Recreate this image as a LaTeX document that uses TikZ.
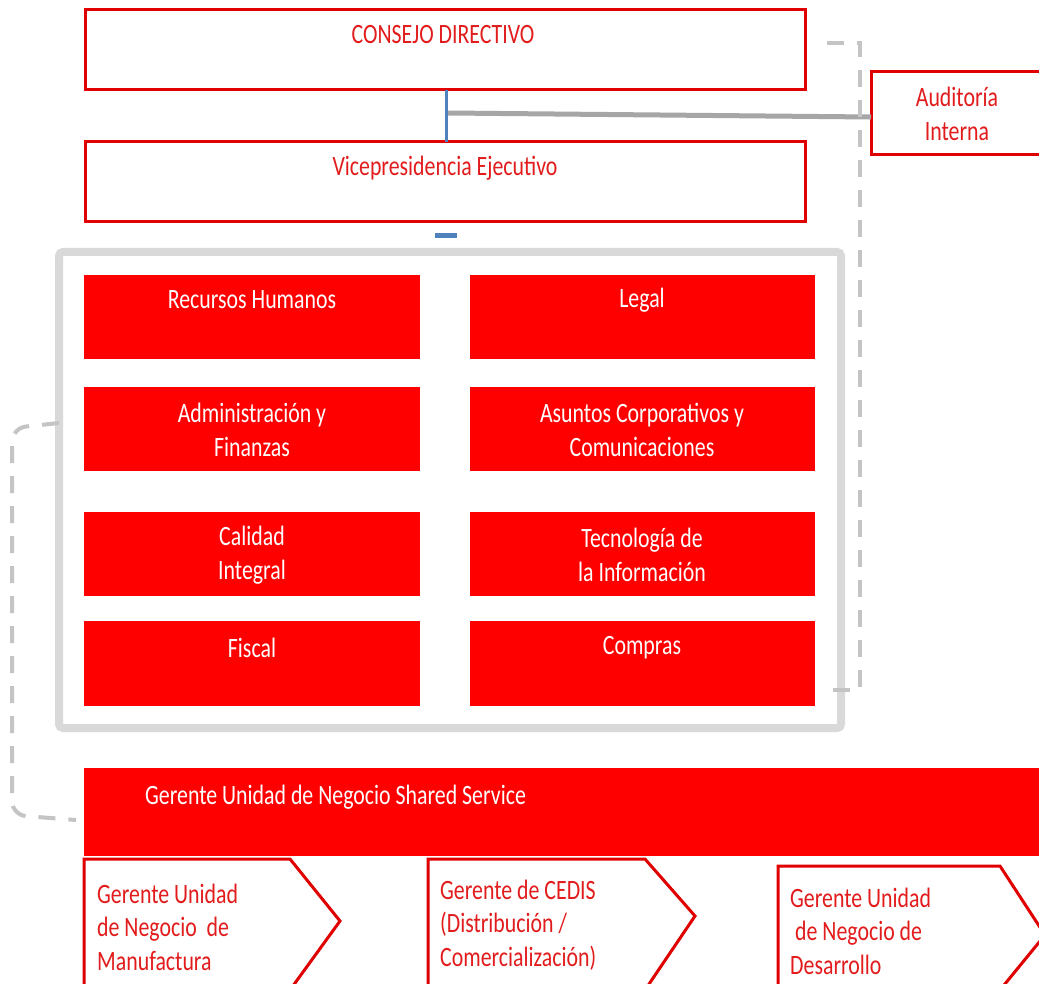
\documentclass[tikz,border=0pt]{standalone}
\usepackage{fontspec}
\setmainfont{Carlito}[FakeStretch=0.78]
\begin{document}
\begin{tikzpicture}[x=1pt,y=-1pt,
  txt/.style={font=\fontsize{28}{33.5}\selectfont, inner sep=0pt, align=center},
  outlinebox/.style={draw=orgred, line width=3pt, fill=white},
  unitbox/.style={fill=unitred, rounded corners=2pt},
  redtext/.style={txt, text=textred},
  whitetext/.style={txt, text=white},
  chevron/.style={draw=orgred, line width=3pt, fill=white, line join=miter},
  dashlink/.style={draw=dashgray, line width=4pt, dash pattern=on 17pt off 13pt},
  frame/.style={draw=framegray, line width=8pt, rounded corners=4pt},
]
\definecolor{orgred}{HTML}{E00000}
\definecolor{unitred}{HTML}{FF0000}
\definecolor{textred}{HTML}{E21C1C}
\definecolor{dashgray}{HTML}{C4C4C4}
\definecolor{framegray}{HTML}{D9D9D9}
\definecolor{linegray}{HTML}{A6A6A6}
\definecolor{lineblue}{HTML}{4F81BD}

\useasboundingbox (0,0) rectangle (1039,984);
\clip (0,0) rectangle (1039,984);
\fill[white] (0,0) rectangle (1039,984);

% board and executive vice-presidency
\draw[outlinebox] (85,10) rectangle (805,90);
\coordinate (consejoS) at (446,90);
\node[redtext] (consejo) at (443,35) {CONSEJO DIRECTIVO};
\draw[outlinebox] (85,142) rectangle (805,222);
\coordinate (viceN) at (446,142);
\node[redtext] (vice) at (445,168) {Vicepresidencia Ejecutivo};

% internal audit
\draw[outlinebox] (871,72) rectangle (1045,155);
\coordinate (auditW) at (871,117);
\node[redtext] (audit) at (957,114) {Auditoría\\Interna};

% reporting lines
\coordinate (tap) at (448,113);
\draw[linegray, line width=5pt] (tap) -- (auditW);
\draw[lineblue, line width=3pt] (consejoS) -- (viceN);
\fill[lineblue] (435,233) rectangle (457,238);

% staff areas frame
\draw[frame] (59,252) rectangle (841,728);
\coordinate (frameW) at (59,423);

% staff areas
\fill[unitred] (84,275) rectangle (420,359);
\node[whitetext] (rh) at (252,300) {Recursos Humanos};
\fill[unitred] (470,275) rectangle (815,359);
\node[whitetext] (legal) at (642,300) {Legal};
\fill[unitred] (84,387) rectangle (420,471);
\node[whitetext] (admin) at (252,430) {Administración y\\Finanzas};
\fill[unitred] (470,387) rectangle (815,471);
\node[whitetext] (asuntos) at (642,430) {Asuntos Corporativos y\\Comunicaciones};
\fill[unitred] (84,512) rectangle (420,596);
\node[whitetext] (calidad) at (252,555) {Calidad\\Integral};
\fill[unitred] (470,512) rectangle (815,596);
\node[whitetext] (ti) at (642,555) {Tecnología de\\la Información};
\fill[unitred] (84,621) rectangle (420,706);
\node[whitetext] (fiscal) at (252,648) {Fiscal};
\fill[unitred] (470,621) rectangle (815,706);
\node[whitetext] (compras) at (642,648) {Compras};

% shared service business unit
\fill[unitred] (84,768) rectangle (1045,856);
\coordinate (sharedW) at (76,820);
\node[whitetext, anchor=west] (shared) at (145,797) {Gerente Unidad de Negocio Shared Service};

% dashed links
\coordinate (topHook) at (827,43);
\coordinate (botHook) at (826,690);
\draw[dashlink] (topHook) -- (860,43) -- (860,690) -- (botHook);
\draw[dashlink, rounded corners=14pt] (frameW) -- (12,428) -- (12,815) -- (sharedW);

% business units
\draw[chevron] (84,859) -- (290,859) -- (340,921) -- (290,990) -- (84,990) -- cycle;
\node[redtext, align=left, anchor=west] (manuf) at (97,927) {Gerente Unidad\\de Negocio\ \ de\\Manufactura};
\draw[chevron] (428,859) -- (645,859) -- (695,916) -- (645,990) -- (428,990) -- cycle;
\node[redtext, align=left, anchor=west] (cedis) at (440,925) {Gerente de CEDIS\\(Distribución /\\Comercialización)};
\draw[chevron] (778,866) -- (1000,866) -- (1045,935) -- (1000,990) -- (778,990) -- cycle;
\node[redtext, align=left, anchor=west] (desarrollo) at (790,931) {Gerente Unidad\\\ de Negocio de\\Desarrollo};
\end{tikzpicture}
\end{document}
